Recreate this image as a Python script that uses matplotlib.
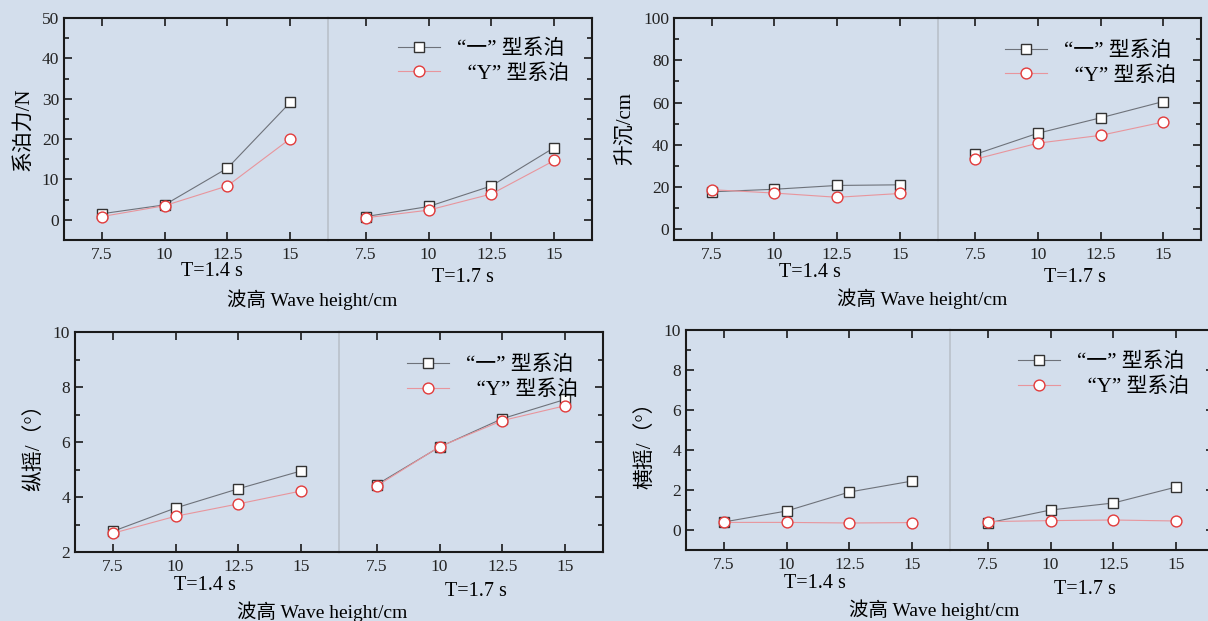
import matplotlib
matplotlib.use("Agg")
import matplotlib.pyplot as plt
from matplotlib.ticker import MultipleLocator

plt.rcParams['font.family'] = ['Liberation Serif', 'Noto Sans CJK SC']
plt.rcParams['axes.unicode_minus'] = False

# ---------------- data ----------------
wave_heights = [7.5, 10, 12.5, 15]
tick_labels = ['7.5', '10', '12.5', '15']
period_labels = ['T=1.4 s', 'T=1.7 s']
series_labels = ['“一” 型系泊', '  “Y” 型系泊']
xlabel_text = '波高 Wave height/cm'

# mooring force / N
force_one_T14 = [1.5, 3.7, 12.8, 29.1]
force_one_T17 = [0.8, 3.3, 8.4, 17.9]
force_y_T14 = [0.8, 3.5, 8.4, 20.1]
force_y_T17 = [0.5, 2.4, 6.4, 14.7]

# heave / cm
heave_one_T14 = [17.8, 19.0, 20.8, 21.1]
heave_one_T17 = [35.5, 45.5, 52.8, 60.5]
heave_y_T14 = [18.8, 17.2, 15.2, 17.0]
heave_y_T17 = [33.2, 40.8, 44.5, 50.8]

# pitch / deg
pitch_one_T14 = [2.75, 3.6, 4.3, 4.95]
pitch_one_T17 = [4.45, 5.82, 6.85, 7.55]
pitch_y_T14 = [2.68, 3.3, 3.75, 4.22]
pitch_y_T17 = [4.4, 5.83, 6.78, 7.32]

# roll / deg
roll_one_T14 = [0.4, 0.95, 1.9, 2.45]
roll_one_T17 = [0.35, 1.0, 1.35, 2.15]
roll_y_T14 = [0.38, 0.38, 0.35, 0.37]
roll_y_T17 = [0.42, 0.47, 0.5, 0.45]

# ---------------- style ----------------
W, H = 1208, 621
BG = '#d3deec'
SPINE = '#1a1a1a'
LINE_ONE = '#6e727a'
LINE_Y = '#e8959c'
EDGE_Y = '#e23b3b'
DIVIDER = '#b9c0ca'

fig = plt.figure(figsize=(W / 100, H / 100), dpi=100, facecolor=BG)


def px_axes(x0, y0, x1, y1):
    return fig.add_axes([x0 / W, 1 - y1 / H, (x1 - x0) / W, (y1 - y0) / H])


def ftext(x, y, s, size, **kw):
    fig.text(x / W, 1 - y / H, s, fontsize=size, ha='center', va='center', **kw)


def panel(box, ylim, major, minor, ylabel, one, yy, lab_pos, leg_anchor):
    x0, y0, x1, y1 = box
    xm = (x0 + x1) / 2
    axL = px_axes(x0, y0, xm, y1)
    axR = px_axes(xm, y0, x1, y1)
    for ax, s_one, s_y, side in ((axL, one[0], yy[0], 'L'), (axR, one[1], yy[1], 'R')):
        ax.set_facecolor('none')
        ax.set_xlim(6, 16.5)
        ax.set_ylim(*ylim)
        l1, = ax.plot(wave_heights, s_one, color=LINE_ONE, lw=0.8, marker='s', ms=7,
                      mfc='white', mec='#333333', mew=1.0, label=series_labels[0], zorder=3)
        l2, = ax.plot(wave_heights, s_y, color=LINE_Y, lw=0.8, marker='o', ms=7.8,
                      mfc='white', mec=EDGE_Y, mew=1.0, label=series_labels[1], zorder=4)
        ax.set_xticks(wave_heights)
        ax.set_xticklabels(tick_labels)
        ax.yaxis.set_major_locator(MultipleLocator(major))
        ax.yaxis.set_minor_locator(MultipleLocator(minor))
        for sp in ax.spines.values():
            sp.set_linewidth(1.5)
            sp.set_color(SPINE)
        ax.tick_params(which='both', direction='in', width=1.2, colors=SPINE,
                       labelsize=12.5, top=True, labelcolor='#222222')
        ax.tick_params(which='major', length=6)
        ax.tick_params(which='minor', length=3.5)
        ax.tick_params(axis='x', which='minor', bottom=False, top=False)
        ax.tick_params(axis='x', pad=5)
        if side == 'L':
            ax.spines['right'].set_visible(False)
            ax.tick_params(axis='y', which='both', right=False)
            ax.set_ylabel(ylabel, fontsize=15, labelpad=6)
        else:
            ax.spines['left'].set_color(DIVIDER)
            ax.spines['left'].set_linewidth(1.2)
            ax.tick_params(axis='y', which='both', left=False, labelleft=False,
                           right=True)
            ax.legend(handles=[l1, l2], loc='upper right',
                      bbox_to_anchor=(leg_anchor[0] / W, 1 - leg_anchor[1] / H),
                      bbox_transform=fig.transFigure, frameon=False,
                      fontsize=15, handlelength=2.0, handletextpad=0.85,
                      labelspacing=0.25, borderpad=0)
        if ylim[0] < 0:
            ax.set_yticks([t for t in ax.get_yticks() if 0 <= t <= ylim[1]])
            ax.yaxis.set_minor_locator(MultipleLocator(minor))
    (t1x, t1y), (t2x, t2y), (xlx, xly) = lab_pos
    ftext(t1x, t1y, period_labels[0], 14.5)
    ftext(t2x, t2y, period_labels[1], 14.5)
    ftext(xlx, xly, xlabel_text, 14)


panel((64, 18, 592, 240), (-5, 50), 10, 5, '系泊力/N',
      (force_one_T14, force_one_T17), (force_y_T14, force_y_T17),
      ((212, 272), (463, 278), (312, 300)), (580, 29))

panel((674, 18, 1201, 240), (-5, 100), 20, 10, '升沉/cm',
      (heave_one_T14, heave_one_T17), (heave_y_T14, heave_y_T17),
      ((810, 273), (1075, 278), (922, 299)), (1187, 31))

panel((75, 332, 603, 552), (2, 10), 2, 1, '纵摇/（°）',
      (pitch_one_T14, pitch_one_T17), (pitch_y_T14, pitch_y_T17),
      ((205, 586), (476, 591), (322, 612)), (589, 345))

panel((686, 330, 1214, 550), (-1, 10), 2, 1, '横摇/（°）',
      (roll_one_T14, roll_one_T17), (roll_y_T14, roll_y_T17),
      ((815, 584), (1085, 590), (934, 610)), (1200, 342))

fig.savefig('out.png', dpi=100, facecolor=BG)
